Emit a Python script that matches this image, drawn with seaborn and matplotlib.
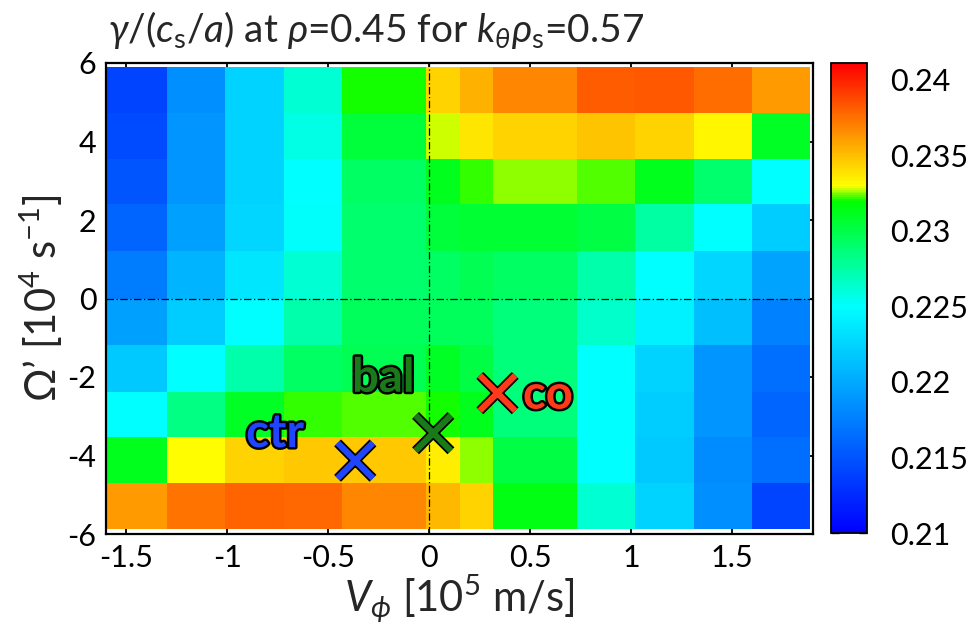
import numpy as np
import pandas as pd
import matplotlib
matplotlib.use("Agg")
import matplotlib.pyplot as plt
import matplotlib.patheffects as pe
from matplotlib.colors import LinearSegmentedColormap
import seaborn as sns

# ---- data ----
v_edges = [-1.62, -1.30, -1.01, -0.72, -0.43, -0.016, 0.15, 0.315, 0.73, 1.02, 1.31, 1.60, 1.885]
omega_edges = [5.905, 4.72, 3.556, 2.40, 1.21, 0.0, -1.173, -2.37, -3.52, -4.69, -5.88]
gamma = [
    [0.2141, 0.2185, 0.2224, 0.2262, 0.2320, 0.2344, 0.2355, 0.2368, 0.2381, 0.2382, 0.2376, 0.2362],
    [0.2144, 0.2188, 0.2224, 0.2257, 0.2304, 0.23275, 0.2338, 0.2344, 0.2349, 0.2344, 0.2333, 0.2309],
    [0.2150, 0.2188, 0.2224, 0.2250, 0.2293, 0.2312, 0.23216, 0.2325, 0.2323, 0.2312, 0.2290, 0.2250],
    [0.2159, 0.2194, 0.2226, 0.2251, 0.2290, 0.2304, 0.2306, 0.2306, 0.2301, 0.2276, 0.2250, 0.2221],
    [0.2174, 0.2206, 0.2235, 0.2262, 0.2290, 0.2293, 0.2298, 0.2293, 0.2273, 0.2250, 0.2226, 0.2197],
    [0.2194, 0.2221, 0.2250, 0.2273, 0.2295, 0.2295, 0.2295, 0.2287, 0.2265, 0.2241, 0.2212, 0.2176],
    [0.2218, 0.2250, 0.2273, 0.2293, 0.2298, 0.2309, 0.2301, 0.2287, 0.2250, 0.2224, 0.2188, 0.2165],
    [0.2250, 0.2284, 0.2309, 0.23216, 0.23235, 0.2320, 0.2312, 0.2287, 0.2250, 0.2221, 0.2188, 0.2159],
    [0.2312, 0.2330, 0.2343, 0.2347, 0.2347, 0.2335, 0.23255, 0.2301, 0.2250, 0.2218, 0.2182, 0.2165],
    [0.2362, 0.2374, 0.2379, 0.2378, 0.2368, 0.2352, 0.2343, 0.2315, 0.2262, 0.2224, 0.2185, 0.2141],
]
case_names = ["ctr", "bal", "co"]
case_v = [-0.366, 0.02, 0.338]
case_omega = [-4.13, -3.43, -2.41]
case_colors = ["#1f45ff", "#1a7a1a", "#ff3a1a"]
label_v = [-0.763, -0.227, 0.588]
label_omega = [-3.43, -2.02, -2.45]

xticks = [-1.5, -1, -0.5, 0, 0.5, 1, 1.5]
xticklabels = ["-1.5", "-1", "-0.5", "0", "0.5", "1", "1.5"]
yticks = [-6, -4, -2, 0, 2, 4, 6]
yticklabels = ["-6", "-4", "-2", "0", "2", "4", "6"]
cbar_ticks = [0.21, 0.215, 0.22, 0.225, 0.23, 0.235, 0.24]
cbar_ticklabels = ["0.21", "0.215", "0.22", "0.225", "0.23", "0.235", "0.24"]
vmin, vmax = 0.21, 0.2411

# ---- style ----
sns.set_theme(style="ticks")
plt.rcParams["font.family"] = ["Lato", "DejaVu Sans"]
plt.rcParams["mathtext.fontset"] = "custom"
plt.rcParams["mathtext.rm"] = "Lato"
plt.rcParams["mathtext.it"] = "Lato:italic"
plt.rcParams["mathtext.bf"] = "Lato:bold"

def pos(v):
    return (v - vmin) / (vmax - vmin)

cmap = LinearSegmentedColormap.from_list("gp", [
    (0.0, (0, 0, 1)),
    (pos(0.225), (0, 1, 1)),
    (pos(0.232), (0, 1, 0)),
    (pos(0.233), (1, 1, 0)),
    (1.0, (1, 0, 0)),
])

fig = plt.figure(figsize=(9.78, 6.25), dpi=100)
ax = fig.add_axes([0.1084, 0.1456, 0.7229, 0.7536])
cax = fig.add_axes([0.8497, 0.1472, 0.0365, 0.752])

Z = np.array(gamma)
mesh = ax.pcolormesh(np.array(v_edges), np.array(omega_edges), Z, cmap=cmap,
                     vmin=vmin, vmax=vmax, shading="flat", rasterized=True)

ax.axhline(0, color="black", lw=0.9, ls=(0, (6, 2, 1, 2)))
ax.axvline(0, color="black", lw=0.9, ls=(0, (6, 2, 1, 2)))

df = pd.DataFrame({"V": case_v, "Omega": case_omega, "case": case_names})
for i, name in enumerate(case_names):
    sub = df[df["case"] == name]
    sns.scatterplot(data=sub, x="V", y="Omega", ax=ax, marker="x", s=650,
                    color=case_colors[i], linewidth=4.5, zorder=5, legend=False)
for coll in ax.collections[1:]:
    coll.set_path_effects([pe.withStroke(linewidth=7, foreground="black")])

for name, lx, ly, c in zip(case_names, label_v, label_omega, case_colors):
    t = ax.text(lx, ly, name, color=c, fontsize=34, fontweight="bold",
                ha="center", va="center", zorder=6)
    t.set_path_effects([pe.withStroke(linewidth=3.5, foreground="black")])

ax.set_xlim(-1.6, 1.9)
ax.set_ylim(-6, 6)
ax.set_xticks(xticks)
ax.set_xticklabels(xticklabels)
ax.set_yticks(yticks)
ax.set_yticklabels(yticklabels)
ax.tick_params(direction="in", length=9, width=1.3, top=True, right=True,
               labelsize=22, pad=7, colors="black")
for s in ax.spines.values():
    s.set_linewidth(1.6)
    s.set_color("black")

ax.set_xlabel(r"$V_\phi$ [10$^5$ m/s]", fontsize=30, labelpad=0)
ax.set_ylabel(r"$\Omega$’ [10$^4$ s$^{-1}$]", fontsize=30, labelpad=2)
fig.text(0.110, 0.952, r"$\gamma$/($c_\mathrm{s}$/$a$) at $\rho$=0.45 for $k_\theta\rho_\mathrm{s}$=0.57",
         fontsize=28, ha="left", va="center")

cb = fig.colorbar(mesh, cax=cax)
cb.set_ticks(cbar_ticks)
cb.set_ticklabels(cbar_ticklabels)
cb.ax.tick_params(direction="in", length=6, width=1, left=True, right=True,
                  labelsize=22, pad=17, colors="black")
cb.outline.set_linewidth(1.3)
cb.outline.set_edgecolor("black")

fig.savefig("out.png", dpi=100)
